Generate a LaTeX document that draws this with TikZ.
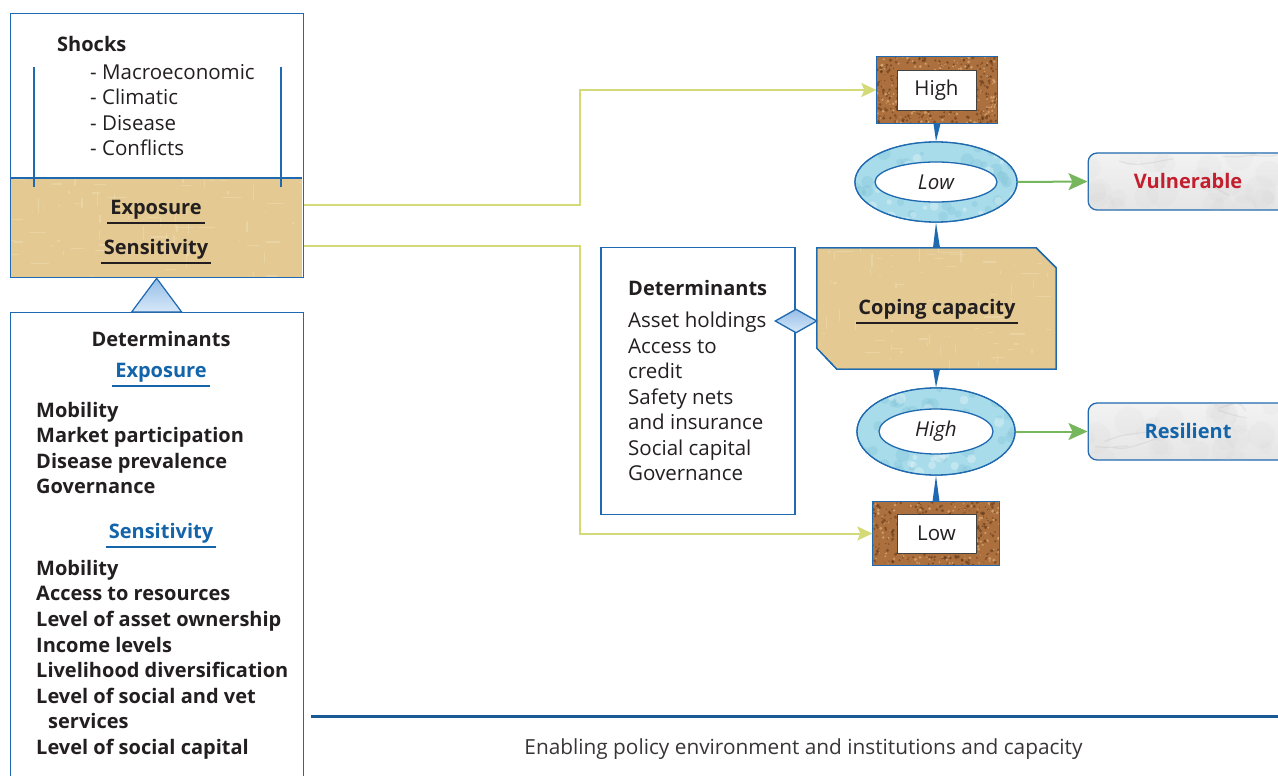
\documentclass[tikz,border=0pt]{standalone}
\usepackage{fontspec}
\setmainfont{Open Sans}
\usetikzlibrary{shapes.geometric,arrows.meta,calc}
\definecolor{bcol}{RGB}{30,105,175}
\definecolor{tanc}{RGB}{229,201,146}
\definecolor{tanl}{RGB}{242,224,182}
\definecolor{ylw}{RGB}{212,218,120}
\definecolor{grn}{RGB}{118,182,92}
\definecolor{ringc}{RGB}{168,220,234}
\definecolor{ringd}{RGB}{130,196,214}
\definecolor{corkc}{RGB}{172,112,62}
\definecolor{corkd}{RGB}{95,52,22}
\definecolor{corkl}{RGB}{220,172,118}
\definecolor{txt}{RGB}{35,31,32}
\definecolor{redt}{RGB}{195,30,45}
\definecolor{bluet}{RGB}{20,100,170}
\definecolor{triB}{RGB}{150,190,232}
\definecolor{triL}{RGB}{215,232,248}
\newcommand\mycork[4]{%
  \begin{scope}
    \clip (#1,#2) rectangle ++(#3,#4);
    \foreach \k in {1,...,320}{%
      \pgfmathsetmacro\rr{0.5+1.4*rnd}%
      \fill[corkd,opacity=.55] ({#1+#3*rnd},{#2+#4*rnd}) circle[radius=\rr pt];}
    \foreach \k in {1,...,160}{%
      \pgfmathsetmacro\rr{0.5+1.2*rnd}%
      \fill[corkl,opacity=.7] ({#1+#3*rnd},{#2+#4*rnd}) circle[radius=\rr pt];}
  \end{scope}}
\newcommand\mytan[4]{%
  \begin{scope}
    \clip (#1,#2) rectangle ++(#3,#4);
    \foreach \k in {1,...,40}{%
      \draw[tanl,opacity=.45,line width=1.2pt] ({#1+#3*rnd},{#2+#4*rnd}) -- ++({-20+40*rnd},0);
      \draw[tanl,opacity=.45,line width=1.2pt] ({#1+#3*rnd},{#2+#4*rnd}) -- ++(0,{-15+30*rnd});}
  \end{scope}}
\newcommand\mymarble[4]{%
  \begin{scope}
    \clip (#1,#2) rectangle ++(#3,#4);
    \foreach \k in {1,...,25}{%
      \pgfmathsetmacro\rr{6+10*rnd}%
      \fill[gray!50,opacity=.07] ({#1+#3*rnd},{#2+#4*rnd}) circle[radius=\rr pt];}
    \foreach \k in {1,...,5}{%
      \draw[gray!55,opacity=.25,line width=1.2pt] ({#1+#3*rnd},{#2+#4*rnd}) .. controls ++({10+20*rnd},{-8+16*rnd}) .. ++({20+40*rnd},{-12+24*rnd});}
  \end{scope}}
\newcommand\myring[4]{%
  \begin{scope}
    \clip (#1,#2) ellipse[x radius=#3 pt,y radius=#4 pt];
    \foreach \k in {1,...,45}{%
      \pgfmathsetmacro\rr{2+5*rnd}%
      \fill[ringd,opacity=.35] ({#1-#3+2*#3*rnd},{#2-#4+2*#4*rnd}) circle[radius=\rr pt];}
    \foreach \k in {1,...,30}{%
      \pgfmathsetmacro\rr{2+4*rnd}%
      \fill[white,opacity=.3] ({#1-#3+2*#3*rnd},{#2-#4+2*#4*rnd}) circle[radius=\rr pt];}
  \end{scope}}
\begin{document}
\begin{tikzpicture}[x=1pt,y=-1pt,
  font=\fontsize{20.5}{24}\selectfont, text=txt,
  box/.style={draw=bcol,line width=1.3pt,inner sep=0pt},
  lb/.style={anchor=mid west,inner sep=0pt,yshift=-5pt,font=\fontsize{20}{24}\selectfont\bfseries},
  lr/.style={anchor=mid west,inner sep=0pt,yshift=-5pt,font=\fontsize{20.5}{24}\selectfont},
  ct/.style={anchor=mid,inner sep=0pt,yshift=-5pt},
  ctb/.style={ct,font=\fontsize{20}{24}\selectfont\bfseries},
  ul/.style={line width=1.8pt,draw=txt},
  ulb/.style={line width=1.8pt,draw=bluet},
  yarrow/.style={draw=ylw,line width=2pt,-{Stealth[length=15pt,width=14pt,inset=3pt]}},
  garrow/.style={draw=grn,line width=2pt,-{Stealth[length=19pt,width=17pt,inset=4pt]}},
  spike/.style={fill=bcol},
  ring/.style={ellipse,draw=bcol,line width=1.3pt,inner sep=0pt},
]
\useasboundingbox (0,0) rectangle (1278,776);
\fill[white] (0,0) rectangle (1278,776);

% ---------- left: shocks box ----------
\fill[tanc] (10,178) rectangle (302,277);
\pgfmathsetseed{11}
\mytan{10}{178}{292}{99}
\node[box,minimum width=293pt,minimum height=264pt,anchor=north west] (shockbox) at (9.5,13) {};
\coordinate (sepl) at (10,178);
\coordinate (sepr) at (302,178);
\draw[bcol,line width=1.3pt] (sepl) -- (sepr);
\coordinate (vl1) at (34,67); \coordinate (vl2) at (34,187);
\coordinate (vr1) at (281,67); \coordinate (vr2) at (281,187);
\draw[bcol,line width=1.6pt] (vl1) -- (vl2);
\draw[bcol,line width=1.6pt] (vr1) -- (vr2);
\node[lb] (shk) at (57,44) {Shocks};
\foreach \t [count=\i] in {Macroeconomic,Climatic,Disease,Conflicts}
  \node[lr] (sh\i) at (90,{72+25.3*(\i-1)}) {- \t};
\node[ctb] (expo) at (156,207) {Exposure};
\draw[ul] ([xshift=-3pt,yshift=-8pt]expo.base west) -- ([xshift=3pt,yshift=-8pt]expo.base east);
\node[ctb] (sens) at (156,247) {Sensitivity};
\draw[ul] ([xshift=-3pt,yshift=-8pt]sens.base west) -- ([xshift=3pt,yshift=-8pt]sens.base east);

% ---------- left: determinants box ----------
\node[box,minimum width=293pt,minimum height=480pt,anchor=north west] (detbox) at (9.5,312) {};
\filldraw[draw=bcol,line width=1.2pt,top color=triB,bottom color=triL] (shockbox.south) -- ([xshift=25pt]detbox.north) -- ([xshift=-25pt]detbox.north) -- cycle;
\node[ctb] (det1h) at (161,339) {Determinants};
\node[ctb,text=bluet] (expo2) at (161,370) {Exposure};
\draw[ulb] ([xshift=-3pt,yshift=-8pt]expo2.base west) -- ([xshift=3pt,yshift=-8pt]expo2.base east);
\foreach \t [count=\i] in {Mobility,Market participation,Disease prevalence,Governance}
  \node[lb] (ex\i) at (36,{410+25.3*(\i-1)}) {\t};
\node[ctb,text=bluet] (sens2) at (161,531) {Sensitivity};
\draw[ulb] ([xshift=-3pt,yshift=-8pt]sens2.base west) -- ([xshift=3pt,yshift=-8pt]sens2.base east);
\node[lb] (se1) at (36,568) {Mobility};
\node[lb] (se2) at (36,593) {Access to resources};
\node[lb] (se3) at (36,619) {Level of asset ownership};
\node[lb] (se4) at (36,645) {Income levels};
\node[lb] (se5) at (36,670) {Livelihood diversification};
\node[lb] (se6) at (36,696) {Level of social and vet};
\node[lb] (se7) at (48,721) {services};
\node[lb] (se8) at (36,747) {Level of social capital};

% ---------- bottom policy line ----------
\coordinate (pl) at (311,716);
\coordinate (pr) at (1278,716);
\draw[bcol!85!black,line width=3pt] (pl) -- (pr);
\node[ct,font=\fontsize{20.8}{24}\selectfont,text=txt!90] (policy) at (803.5,747) {Enabling policy environment and institutions and capacity};

% ---------- right: middle column ----------
\node[minimum width=239pt,minimum height=121pt,inner sep=0pt] (cope) at (936.5,308.5) {};
\node[box,minimum width=120pt,minimum height=66pt] (highbox) at (937,90) {};
\node[box,minimum width=126pt,minimum height=63pt] (lowbox) at (936,533.5) {};
\node[ring,minimum width=162pt,minimum height=80pt] (ring1) at (936,182) {};
\node[ring,minimum width=158pt,minimum height=87pt] (ring2) at (936,431.5) {};

% cork boxes
\fill[corkc] (highbox.south west) rectangle (highbox.north east);
\pgfmathsetseed{5}
\mycork{877}{57}{120}{66}
\draw[bcol,line width=1.3pt] (highbox.south west) rectangle (highbox.north east);
\node[draw=txt!85,line width=1pt,fill=white,minimum width=79pt,minimum height=39pt,inner sep=0pt] (hightxt) at (936.5,90.5) {High};
\fill[corkc] (lowbox.south west) rectangle (lowbox.north east);
\pgfmathsetseed{9}
\mycork{873}{502}{126}{63}
\draw[bcol,line width=1.3pt] (lowbox.south west) rectangle (lowbox.north east);
\node[draw=txt!85,line width=1pt,fill=white,minimum width=79pt,minimum height=39pt,inner sep=0pt] (lowtxt) at (936.5,533.5) {Low};

% coping capacity
\filldraw[fill=tanc,draw=bcol,line width=1.3pt] (cope.north west) -- ([xshift=-20pt]cope.north east) -- ([yshift=-20pt]cope.north east) -- (cope.south east) -- ([xshift=20pt]cope.south west) -- ([yshift=21pt]cope.south west) -- cycle;
\begin{scope}
  \clip (cope.north west) -- ([xshift=-20pt]cope.north east) -- ([yshift=-20pt]cope.north east) -- (cope.south east) -- ([xshift=20pt]cope.south west) -- ([yshift=21pt]cope.south west) -- cycle;
  \pgfmathsetseed{21}
  \mytan{817}{248}{239}{121}
\end{scope}
\draw[bcol,line width=1.3pt] (cope.north west) -- ([xshift=-20pt]cope.north east) -- ([yshift=-20pt]cope.north east) -- (cope.south east) -- ([xshift=20pt]cope.south west) -- ([yshift=21pt]cope.south west) -- cycle;
\node[ctb] (copetxt) at (937,307) {Coping capacity};
\draw[ul] ([xshift=-2pt,yshift=-8pt]copetxt.base west) -- ([xshift=2pt,yshift=-8pt]copetxt.base east);

% spikes
\fill[spike] ([xshift=-3.5pt]highbox.south) -- ([xshift=3.5pt]highbox.south) -- (ring1.north) -- cycle;
\fill[spike] ([xshift=-3.5pt]cope.north) -- ([xshift=3.5pt]cope.north) -- (ring1.south) -- cycle;
\fill[spike] ([xshift=-3.5pt]cope.south) -- ([xshift=3.5pt]cope.south) -- (ring2.north) -- cycle;
\fill[spike] ([xshift=-3.5pt]lowbox.north) -- ([xshift=3.5pt]lowbox.north) -- (ring2.south) -- cycle;

% rings
\fill[ringc] (ring1.center) ellipse[x radius=81pt,y radius=40pt];
\pgfmathsetseed{14}
\myring{936}{182}{81}{40}
\draw[bcol,line width=1.3pt] (ring1.center) ellipse[x radius=81pt,y radius=40pt];
\node[ring,fill=white,minimum width=122pt,minimum height=40pt,font=\fontsize{20.5}{24}\selectfont\itshape] (lowring) at (936,182) {Low};
\fill[ringc] (ring2.center) ellipse[x radius=79pt,y radius=43.5pt];
\pgfmathsetseed{15}
\myring{936}{431.5}{79}{43.5}
\draw[bcol,line width=1.3pt] (ring2.center) ellipse[x radius=79pt,y radius=43.5pt];
\node[ring,fill=white,minimum width=114pt,minimum height=45pt,font=\fontsize{20.5}{24}\selectfont\itshape] (highring) at (936,431.5) {High};

% determinants (coping)
\node[box,minimum width=194pt,minimum height=267pt] (det2) at (698,381) {};
\node[lb] (det2h) at (628,288) {Determinants};
\foreach \t [count=\i] in {Asset holdings,Access to,credit,Safety nets,and insurance,Social capital,Governance}
  \node[lr] (cd\i) at (628,{320+25.5*(\i-1)}) {\t};
\node[diamond,draw=bcol,line width=1.3pt,top color=triB,bottom color=triL,minimum width=42pt,minimum height=24pt,inner sep=0pt,aspect=1.75] (dia) at (796,321) {};

% outcomes
\node[draw=bcol,line width=1.3pt,rounded corners=9pt,minimum width=240pt,minimum height=57pt,anchor=west,top color=gray!10,bottom color=gray!20,inner sep=0pt] (vuln) at (1087.5,181.5) {};
\pgfmathsetseed{3}
\mymarble{1088}{153}{190}{57}
\node[ctb,text=redt] (vulntxt) at (1188,181) {Vulnerable};
\node[draw=bcol,line width=1.3pt,rounded corners=9pt,minimum width=240pt,minimum height=57pt,anchor=west,top color=gray!10,bottom color=gray!20,inner sep=0pt] (resil) at (1087.5,431.5) {};
\pgfmathsetseed{8}
\mymarble{1088}{403}{190}{57}
\node[ctb,text=bluet] (resiltxt) at (1188,431) {Resilient};

% connectors
\draw[garrow] (ring1.east) -- (vuln.west);
\draw[garrow] (ring2.east) -- (resil.west);
\coordinate (bendx) at (580,0);
\draw[yarrow] ([yshift=5pt]expo.center -| shockbox.east) -- ([yshift=5pt]expo.center -| bendx) |- (highbox.west);
\draw[yarrow] ([yshift=3pt]sens.center -| shockbox.east) -- ([yshift=3pt]sens.center -| bendx) |- (lowbox.west);
\end{tikzpicture}
\end{document}
